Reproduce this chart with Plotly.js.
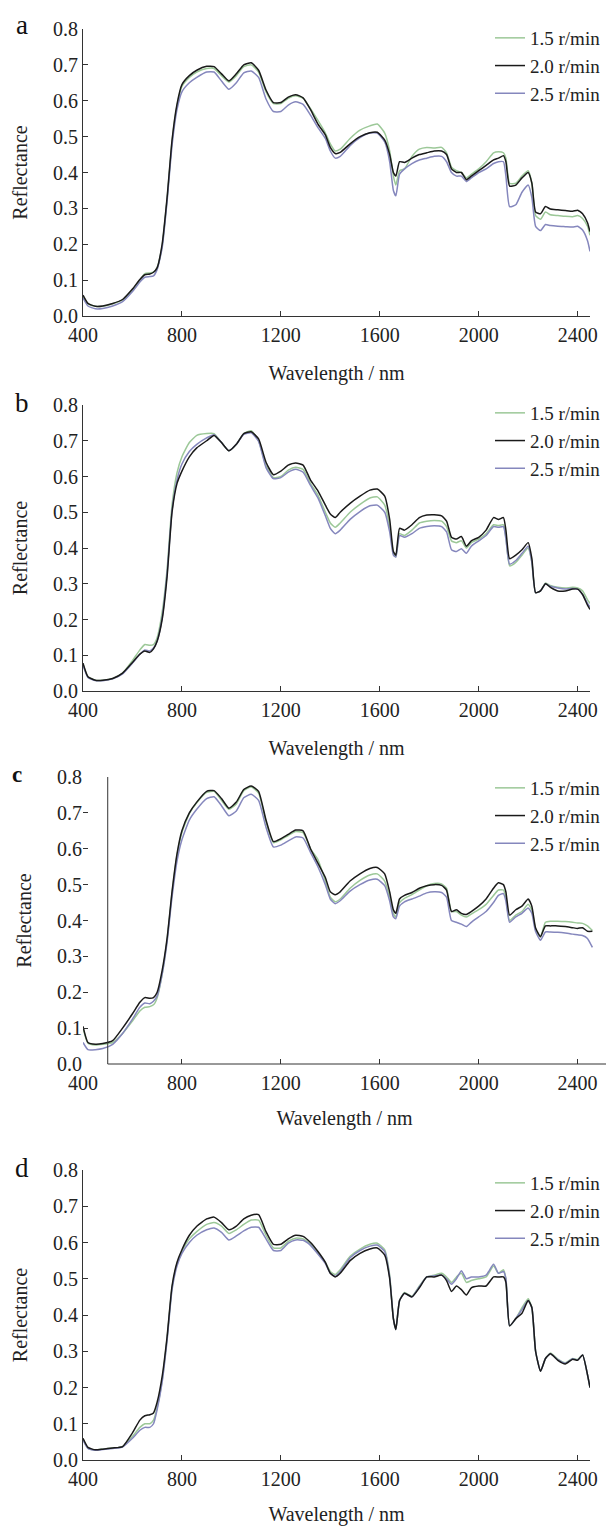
<!DOCTYPE html>
<html><head><meta charset="utf-8">
<script src="https://cdn.plot.ly/plotly-3.0.1.min.js"></script>
<style>html,body{margin:0;padding:0;background:#fff}#chart{width:606px;height:1526px}</style>
</head><body><div id="chart"></div>
<script>
// ---------------- DATA ----------------
const wavelength = [400,420,450,480,520,560,600,630,650,670,
  685,700,720,740,760,780,800,830,860,900,
  930,960,990,1020,1050,1080,1110,1140,1170,1200,
  1230,1260,1290,1320,1350,1380,1400,1420,1440,1480,
  1520,1560,1590,1620,1640,1655,1665,1680,1700,1730,
  1760,1790,1820,1850,1870,1890,1910,1930,1950,1970,
  2000,2030,2060,2080,2100,2110,2125,2150,2175,2200,
  2215,2230,2250,2270,2290,2320,2350,2380,2400,2420,
  2440,2450];
const wavelengthC = [400,420,450,480,520,560,600,630,650,670,
  685,700,720,740,760,780,800,830,860,900,
  930,960,990,1020,1050,1080,1110,1140,1170,1200,
  1230,1260,1290,1320,1350,1380,1400,1420,1440,1480,
  1520,1560,1590,1620,1640,1655,1665,1680,1700,1730,
  1760,1790,1820,1850,1870,1890,1910,1930,1950,1970,
  2000,2030,2060,2080,2100,2110,2125,2150,2175,2200,
  2215,2230,2250,2270,2290,2320,2350,2380,2400,2420,
  2440,2460];
const seriesNames = ['1.5 r/min', '2.0 r/min', '2.5 r/min'];
const panelLabels = ['a', 'b', 'c', 'd'];
const xTitle = 'Wavelength / nm';
const yTitle = 'Reflectance';

// panel a
const a15 = [0.055,0.034,0.027,0.027,0.034,0.045,0.072,0.1,0.118,0.12,
  0.122,0.135,0.195,0.325,0.485,0.585,0.64,0.665,0.68,0.69,
  0.69,0.67,0.652,0.67,0.695,0.7,0.68,0.625,0.592,0.592,
  0.607,0.614,0.607,0.578,0.545,0.51,0.48,0.46,0.465,0.495,
  0.518,0.53,0.535,0.51,0.46,0.39,0.365,0.405,0.41,0.445,
  0.465,0.47,0.468,0.47,0.455,0.415,0.405,0.4,0.385,0.395,
  0.41,0.43,0.455,0.458,0.455,0.44,0.37,0.37,0.39,0.405,
  0.37,0.28,0.27,0.29,0.282,0.28,0.278,0.277,0.28,0.272,
  0.25,0.225];
const a20 = [0.058,0.035,0.027,0.028,0.035,0.046,0.075,0.102,0.115,0.117,
  0.122,0.135,0.2,0.33,0.49,0.59,0.645,0.67,0.685,0.696,
  0.695,0.675,0.655,0.675,0.7,0.706,0.685,0.63,0.595,0.595,
  0.61,0.617,0.608,0.575,0.535,0.505,0.47,0.453,0.456,0.48,
  0.5,0.511,0.512,0.49,0.45,0.4,0.39,0.43,0.428,0.44,
  0.45,0.455,0.46,0.46,0.45,0.41,0.4,0.4,0.38,0.39,
  0.405,0.42,0.435,0.44,0.447,0.43,0.362,0.365,0.385,0.4,
  0.37,0.29,0.285,0.305,0.298,0.296,0.294,0.292,0.295,0.285,
  0.26,0.235];
const a25 = [0.05,0.028,0.02,0.021,0.028,0.04,0.068,0.095,0.108,0.11,
  0.112,0.13,0.19,0.32,0.475,0.575,0.625,0.65,0.665,0.68,
  0.68,0.655,0.632,0.65,0.678,0.683,0.665,0.605,0.57,0.57,
  0.588,0.597,0.59,0.56,0.525,0.495,0.46,0.44,0.445,0.475,
  0.497,0.51,0.51,0.485,0.43,0.35,0.335,0.395,0.41,0.425,
  0.435,0.44,0.445,0.445,0.43,0.4,0.39,0.39,0.375,0.385,
  0.4,0.41,0.425,0.43,0.43,0.39,0.305,0.31,0.345,0.365,
  0.33,0.25,0.238,0.255,0.252,0.25,0.249,0.248,0.25,0.24,
  0.21,0.18];

// panel b
const b15 = [0.075,0.04,0.03,0.03,0.035,0.05,0.085,0.115,0.13,0.128,
  0.13,0.15,0.22,0.34,0.52,0.61,0.655,0.695,0.715,0.72,
  0.72,0.695,0.672,0.69,0.72,0.728,0.7,0.63,0.597,0.6,
  0.618,0.626,0.62,0.58,0.548,0.5,0.47,0.458,0.47,0.5,
  0.522,0.54,0.543,0.52,0.46,0.385,0.375,0.44,0.435,0.45,
  0.47,0.475,0.477,0.475,0.46,0.42,0.415,0.42,0.4,0.415,
  0.425,0.44,0.465,0.463,0.465,0.43,0.35,0.36,0.38,0.4,
  0.36,0.275,0.28,0.302,0.295,0.29,0.288,0.29,0.288,0.28,
  0.255,0.245];
const b20 = [0.078,0.04,0.03,0.03,0.035,0.05,0.08,0.103,0.112,0.108,
  0.118,0.14,0.2,0.32,0.5,0.58,0.615,0.655,0.68,0.7,
  0.715,0.695,0.672,0.69,0.72,0.725,0.705,0.64,0.605,0.615,
  0.632,0.638,0.632,0.59,0.56,0.52,0.495,0.485,0.5,0.525,
  0.545,0.562,0.565,0.545,0.48,0.39,0.38,0.455,0.45,0.465,
  0.485,0.492,0.493,0.49,0.475,0.43,0.425,0.432,0.405,0.42,
  0.43,0.45,0.485,0.48,0.485,0.45,0.37,0.38,0.395,0.415,
  0.37,0.275,0.28,0.3,0.29,0.28,0.28,0.285,0.285,0.27,
  0.24,0.228];
const b25 = [0.072,0.038,0.029,0.029,0.034,0.048,0.078,0.103,0.115,0.112,
  0.12,0.14,0.205,0.33,0.505,0.59,0.635,0.67,0.69,0.708,
  0.717,0.695,0.672,0.69,0.718,0.722,0.698,0.625,0.594,0.597,
  0.612,0.62,0.612,0.575,0.54,0.49,0.455,0.44,0.45,0.48,
  0.502,0.518,0.52,0.5,0.445,0.38,0.375,0.435,0.43,0.44,
  0.455,0.46,0.462,0.46,0.445,0.395,0.39,0.398,0.385,0.405,
  0.42,0.435,0.46,0.458,0.46,0.425,0.355,0.365,0.385,0.405,
  0.36,0.275,0.28,0.3,0.293,0.288,0.285,0.287,0.285,0.27,
  0.245,0.235];

// panel c
const c15 = [0.1,0.058,0.053,0.055,0.06,0.085,0.12,0.148,0.158,0.16,
  0.165,0.185,0.25,0.345,0.475,0.58,0.645,0.698,0.728,0.757,
  0.76,0.735,0.71,0.725,0.762,0.772,0.755,0.675,0.617,0.625,
  0.637,0.648,0.645,0.6,0.57,0.51,0.465,0.452,0.46,0.49,
  0.512,0.527,0.53,0.51,0.465,0.42,0.41,0.45,0.462,0.472,
  0.485,0.497,0.503,0.502,0.49,0.425,0.425,0.415,0.41,0.418,
  0.43,0.445,0.47,0.485,0.485,0.465,0.4,0.415,0.425,0.445,
  0.43,0.375,0.355,0.395,0.398,0.398,0.397,0.395,0.393,0.392,
  0.385,0.372];
const c20 = [0.105,0.06,0.055,0.057,0.065,0.1,0.14,0.172,0.185,0.183,
  0.185,0.2,0.26,0.35,0.48,0.585,0.65,0.7,0.73,0.76,
  0.762,0.74,0.713,0.73,0.765,0.775,0.76,0.68,0.62,0.628,
  0.64,0.652,0.65,0.6,0.56,0.52,0.48,0.472,0.48,0.51,
  0.53,0.545,0.548,0.53,0.48,0.43,0.42,0.46,0.47,0.478,
  0.49,0.497,0.5,0.498,0.485,0.425,0.43,0.42,0.417,0.425,
  0.44,0.46,0.49,0.505,0.5,0.48,0.415,0.43,0.44,0.46,
  0.44,0.38,0.355,0.385,0.385,0.385,0.383,0.38,0.378,0.38,
  0.37,0.37];
const c25 = [0.06,0.04,0.04,0.043,0.055,0.085,0.125,0.158,0.17,0.168,
  0.175,0.19,0.25,0.34,0.465,0.565,0.625,0.68,0.71,0.74,
  0.745,0.72,0.692,0.705,0.742,0.752,0.735,0.66,0.605,0.61,
  0.622,0.633,0.63,0.59,0.55,0.5,0.46,0.447,0.455,0.482,
  0.5,0.513,0.515,0.497,0.455,0.41,0.405,0.44,0.452,0.46,
  0.468,0.477,0.48,0.478,0.465,0.4,0.395,0.39,0.383,0.395,
  0.41,0.425,0.45,0.47,0.475,0.455,0.395,0.41,0.42,0.435,
  0.42,0.37,0.345,0.368,0.368,0.367,0.365,0.362,0.36,0.358,
  0.35,0.325];

// panel d
const d15 = [0.058,0.033,0.028,0.03,0.033,0.037,0.065,0.09,0.1,0.1,
  0.11,0.145,0.22,0.335,0.475,0.54,0.575,0.61,0.63,0.65,
  0.655,0.645,0.625,0.635,0.65,0.662,0.662,0.62,0.585,0.585,
  0.603,0.612,0.61,0.595,0.57,0.545,0.52,0.512,0.525,0.562,
  0.582,0.595,0.598,0.58,0.51,0.39,0.36,0.44,0.462,0.452,
  0.48,0.505,0.51,0.515,0.505,0.49,0.505,0.515,0.49,0.495,
  0.5,0.505,0.535,0.515,0.525,0.5,0.37,0.39,0.42,0.445,
  0.42,0.3,0.245,0.28,0.295,0.278,0.268,0.28,0.277,0.29,
  0.235,0.2];
const d20 = [0.06,0.035,0.028,0.03,0.033,0.037,0.075,0.11,0.122,0.125,
  0.13,0.16,0.23,0.34,0.48,0.545,0.58,0.62,0.645,0.665,
  0.67,0.655,0.635,0.645,0.665,0.675,0.677,0.63,0.595,0.595,
  0.61,0.62,0.617,0.6,0.575,0.545,0.515,0.505,0.515,0.55,
  0.57,0.582,0.585,0.565,0.5,0.39,0.36,0.44,0.46,0.45,
  0.475,0.505,0.505,0.51,0.495,0.465,0.48,0.47,0.455,0.475,
  0.48,0.48,0.505,0.505,0.505,0.49,0.37,0.39,0.405,0.44,
  0.42,0.3,0.245,0.28,0.293,0.275,0.265,0.278,0.275,0.29,
  0.235,0.2];
const d25 = [0.055,0.032,0.027,0.029,0.032,0.036,0.06,0.082,0.09,0.09,
  0.1,0.14,0.215,0.33,0.47,0.535,0.57,0.6,0.62,0.635,
  0.64,0.628,0.607,0.618,0.632,0.642,0.642,0.61,0.578,0.578,
  0.598,0.607,0.606,0.592,0.568,0.542,0.515,0.507,0.52,0.558,
  0.578,0.59,0.593,0.575,0.505,0.39,0.36,0.44,0.46,0.45,
  0.478,0.505,0.508,0.51,0.5,0.485,0.5,0.522,0.5,0.505,
  0.505,0.51,0.54,0.515,0.52,0.5,0.37,0.39,0.415,0.44,
  0.42,0.3,0.245,0.28,0.293,0.277,0.267,0.279,0.276,0.29,
  0.235,0.2];

// ---------------- STYLE / LAYOUT ----------------
const W = 606, H = 1526;
const FONT = '"Liberation Serif", "Times New Roman", Times, serif';
const colors = ['#9cc898', '#1a1a1a', '#8587bd'];
const drawOrder = [0, 2, 1]; // black drawn on top
const panels = [
  {x: wavelength,  ys: [a15, a20, a25], top: 29,   bottom: 316,  right: 590, xmax: 2450, free: false, legTop: 19,   labX: 22, labY: 25},
  {x: wavelength,  ys: [b15, b20, b25], top: 405,  bottom: 691,  right: 590, xmax: 2450, free: false, legTop: 394,  labX: 22, labY: 403},
  {x: wavelengthC, ys: [c15, c20, c25], top: 777,  bottom: 1064, right: 606, xmax: 2515, free: true,  legTop: 769,  labX: 17, labY: 774},
  {x: wavelength,  ys: [d15, d20, d25], top: 1170, bottom: 1460, right: 590, xmax: 2450, free: false, legTop: 1164, labX: 22, labY: 1168}
];
const LEFT = 83;

const traces = [];
const layout = {
  width: W, height: H, autosize: false,
  margin: {l: 0, r: 0, t: 0, b: 0},
  paper_bgcolor: '#fff', plot_bgcolor: '#fff',
  font: {family: FONT, color: '#222', size: 20},
  showlegend: true,
  annotations: [], shapes: []
};

panels.forEach((p, i) => {
  const n = i + 1;
  const xid = 'x' + (n === 1 ? '' : n), yid = 'y' + (n === 1 ? '' : n);
  const legId = 'legend' + (n === 1 ? '' : n);
  drawOrder.forEach(k => {
    traces.push({
      type: 'scatter', mode: 'lines',
      x: p.x, y: p.ys[k], name: seriesNames[k],
      xaxis: xid, yaxis: yid, legend: legId, legendrank: k + 1,
      line: {color: colors[k], width: 1.5, shape: 'spline', smoothing: 0.5},
      hoverinfo: 'x+y+name'
    });
  });
  const xd = [LEFT / W, p.right / W];
  const yd = [1 - p.bottom / H, 1 - p.top / H];
  const axCommon = {
    ticks: 'inside', ticklen: 5, tickwidth: 1, tickcolor: '#333',
    linecolor: '#333', linewidth: 1, showgrid: false, zeroline: false,
    tickfont: {family: FONT, size: 20, color: '#222'}
  };
  layout['xaxis' + (n === 1 ? '' : n)] = Object.assign({}, axCommon, {
    domain: xd, range: [400, p.xmax], anchor: yid,
    tick0: 400, dtick: 400, showline: !p.free, ticklabelstandoff: p.free ? 5 : 1,
    title: {text: xTitle, font: {family: FONT, size: 20, color: '#222'}, standoff: p.free ? 17 : 20}
  });
  layout['yaxis' + (n === 1 ? '' : n)] = Object.assign({}, axCommon, {
    domain: yd, range: [0, 0.8], anchor: xid,
    tick0: 0, dtick: 0.1, tickformat: '.1f', showline: !p.free,
    title: {text: yTitle, font: {family: FONT, size: 20, color: '#222'}, standoff: 20}
  });
  layout[legId] = {
    x: 1, xanchor: 'right', y: 1 - p.legTop / H, yanchor: 'top',
    bgcolor: 'rgba(0,0,0,0)', borderwidth: 0,
    font: {family: FONT, size: 19, color: '#222'}, itemwidth: 30
  };
  layout.annotations.push({
    text: i === 2 ? '<b>' + panelLabels[i] + '</b>' : panelLabels[i],
    xref: 'paper', yref: 'paper',
    x: p.labX / W, y: 1 - p.labY / H, xanchor: 'center', yanchor: 'middle',
    showarrow: false,
    font: {family: FONT, size: i === 2 ? 23 : 27, color: '#111'}
  });
  if (p.free) {
    // detached axis lines starting at 500 nm (as in panel c of the original)
    const frac = (500 - 400) / (p.xmax - 400);
    const xp = xd[0] + frac * (xd[1] - xd[0]);
    layout.shapes.push({type: 'line', xref: 'paper', yref: 'paper',
      x0: xp, x1: xp, y0: yd[0], y1: yd[1], line: {color: '#333', width: 1}});
    layout.shapes.push({type: 'line', xref: 'paper', yref: 'paper',
      x0: xp, x1: xd[1], y0: yd[0], y1: yd[0], line: {color: '#333', width: 1}});
  }
});

Plotly.newPlot('chart', traces, layout, {displayModeBar: false, staticPlot: true});
</script>
</body></html>
